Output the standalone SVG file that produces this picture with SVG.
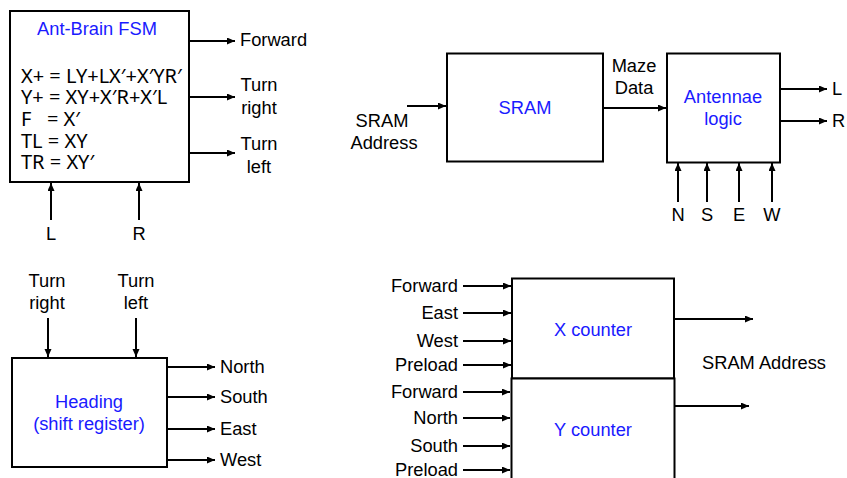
<svg xmlns="http://www.w3.org/2000/svg" width="847" height="478" viewBox="0 0 847 478">
<defs>
<style>
.box{fill:#fff;stroke:#000;stroke-width:2}
.t{font-family:"Liberation Sans",Arial,sans-serif;font-size:18.3px;fill:#000}
.b{fill:#1a1aff}
.m{text-anchor:middle}
.e{text-anchor:end}
.eq{font-family:"Noto Sans","Open Sans",sans-serif;font-size:20px;fill:#000}
.c{stroke:#000;stroke-width:2;fill:none;marker-end:url(#ah)}
</style>
<marker id="ah" markerUnits="userSpaceOnUse" markerWidth="9" markerHeight="8" refX="8" refY="3.5" orient="auto">
<path d="M0,0 L8,3.5 L0,7 z" fill="#000"/>
</marker>
</defs>
<rect width="847" height="478" fill="#fff"/>

<g id="fsm">
<rect class="box" x="10" y="11" width="179" height="171"/>
<text class="t b m" x="97" y="35">Ant-Brain FSM</text>
<text class="eq" x="21" y="82.5">X+ = LY+LX′+X′YR′</text>
<text class="eq" x="21" y="103.5">Y+ = XY+X′R+X′L</text>
<text class="eq" x="21" y="126" xml:space="preserve">F   = X′</text>
<text class="eq" x="21" y="148">TL = XY</text>
<text class="eq" x="21" y="169">TR = XY′</text>
</g>
<g id="fsm-labels">
<text class="t" x="240" y="46">Forward</text>
<text class="t m" x="259" y="91">Turn</text>
<text class="t m" x="259" y="114">right</text>
<text class="t m" x="259" y="150">Turn</text>
<text class="t m" x="259" y="173">left</text>
<text class="t m" x="51" y="240">L</text>
<text class="t m" x="139" y="240">R</text>
</g>

<g id="sram">
<rect class="box" x="447" y="53.5" width="156" height="108"/>
<text class="t b m" x="525" y="114">SRAM</text>
</g>
<g id="sram-labels">
<text class="t m" x="382" y="127">SRAM</text>
<text class="t m" x="384" y="149">Address</text>
<text class="t m" x="634" y="72">Maze</text>
<text class="t m" x="634" y="94">Data</text>
</g>

<g id="antennae">
<rect class="box" x="667" y="53.5" width="113" height="109"/>
<text class="t b m" x="723" y="103">Antennae</text>
<text class="t b m" x="723" y="125">logic</text>
</g>
<g id="antennae-labels">
<text class="t" x="832" y="95">L</text>
<text class="t" x="832" y="127">R</text>
<text class="t m" x="678" y="221">N</text>
<text class="t m" x="707" y="221">S</text>
<text class="t m" x="739" y="221">E</text>
<text class="t m" x="772" y="221">W</text>
</g>

<g id="heading">
<rect class="box" x="12" y="358" width="155" height="109"/>
<text class="t b m" x="89" y="408">Heading</text>
<text class="t b m" x="89" y="430">(shift register)</text>
</g>
<g id="heading-labels">
<text class="t m" x="47" y="287">Turn</text>
<text class="t m" x="47" y="309">right</text>
<text class="t m" x="136" y="287">Turn</text>
<text class="t m" x="136" y="309">left</text>
<text class="t" x="220" y="373">North</text>
<text class="t" x="220" y="403">South</text>
<text class="t" x="220" y="435">East</text>
<text class="t" x="220" y="466">West</text>
</g>

<g id="xcounter">
<rect class="box" x="512" y="278.5" width="162" height="100"/>
<text class="t b m" x="593" y="336">X counter</text>
</g>
<g id="ycounter">
<rect class="box" x="511.5" y="378.5" width="163" height="110"/>
<text class="t b m" x="593" y="436">Y counter</text>
</g>
<g id="counter-labels">
<text class="t e" x="458" y="292">Forward</text>
<text class="t e" x="458" y="318.5">East</text>
<text class="t e" x="458" y="346.5">West</text>
<text class="t e" x="458" y="371">Preload</text>
<text class="t e" x="458" y="398">Forward</text>
<text class="t e" x="458" y="423.5">North</text>
<text class="t e" x="458" y="451.5">South</text>
<text class="t e" x="458" y="476">Preload</text>
<text class="t" x="702" y="369">SRAM Address</text>
</g>

<g id="connectors">
<line class="c" x1="189" y1="41" x2="235" y2="41"/>
<line class="c" x1="189" y1="97" x2="235" y2="97"/>
<line class="c" x1="189" y1="153" x2="235" y2="153"/>
<line class="c" x1="51" y1="220" x2="51" y2="183"/>
<line class="c" x1="139" y1="220" x2="139" y2="183"/>
<line class="c" x1="407" y1="106" x2="446" y2="106"/>
<line class="c" x1="603" y1="108" x2="666" y2="108"/>
<line class="c" x1="780" y1="89" x2="827" y2="89"/>
<line class="c" x1="780" y1="121" x2="827" y2="121"/>
<line class="c" x1="678" y1="202" x2="678" y2="163"/>
<line class="c" x1="707" y1="202" x2="707" y2="163"/>
<line class="c" x1="739" y1="202" x2="739" y2="163"/>
<line class="c" x1="772" y1="202" x2="772" y2="163"/>
<line class="c" x1="48" y1="318" x2="48" y2="357"/>
<line class="c" x1="136" y1="318" x2="136" y2="357"/>
<line class="c" x1="167" y1="367" x2="215" y2="367"/>
<line class="c" x1="167" y1="397" x2="215" y2="397"/>
<line class="c" x1="167" y1="429" x2="215" y2="429"/>
<line class="c" x1="167" y1="460" x2="215" y2="460"/>
<line class="c" x1="463" y1="286" x2="511" y2="286"/>
<line class="c" x1="463" y1="313" x2="511" y2="313"/>
<line class="c" x1="463" y1="341" x2="511" y2="341"/>
<line class="c" x1="463" y1="365" x2="511" y2="365"/>
<line class="c" x1="463" y1="392" x2="510" y2="392"/>
<line class="c" x1="463" y1="418" x2="510" y2="418"/>
<line class="c" x1="463" y1="446" x2="510" y2="446"/>
<line class="c" x1="463" y1="470" x2="510" y2="470"/>
<line class="c" x1="674" y1="319" x2="753" y2="319"/>
<line class="c" x1="674" y1="406" x2="749" y2="406"/>
</g>
</svg>
